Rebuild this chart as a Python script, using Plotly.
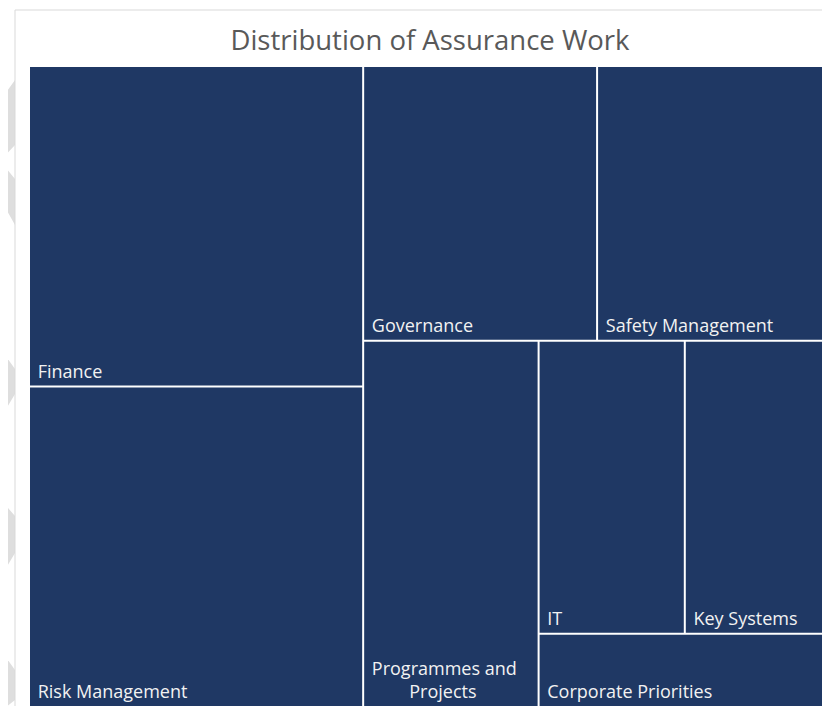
import plotly.graph_objects as go

# Areas of assurance work and their relative weight
areas = ["Finance", "Risk Management", "Governance", "Safety Management",
         "Programmes and<br>" + "\u00a0" * 9 + "Projects", "IT", "Key Systems",
         "Corporate Priorities"]
weights = [5, 5, 3, 3, 3, 2, 2, 1]

# Blocks used to reproduce the tile arrangement of the original chart
area_block = ["left", "left", "upper", "upper", "prog", "pair", "pair", "corp"]
blocks = ["left", "right", "upper", "lower", "prog", "rest", "pair", "corp"]
block_parent = ["", "", "right", "right", "lower", "lower", "rest", "rest"]

NAVY = "#1f3864"

ids = blocks + areas
labels = [""] * len(blocks) + areas
parents = block_parent + area_block
values = [0] * len(blocks) + weights
colors = ["white"] * len(blocks) + [NAVY] * len(areas)

fig = go.Figure(go.Treemap(
    ids=ids,
    labels=labels,
    parents=parents,
    values=values,
    branchvalues="remainder",
    sort=False,
    texttemplate="\u00a0%{label}",
    textposition="bottom left",
    textfont=dict(family="Open Sans", size=18, color="#f2f2f2"),
    marker=dict(colors=colors, line=dict(width=0), depthfade=False,
                pad=dict(t=0, l=0, r=0, b=0)),
    tiling=dict(packing="slice-dice", pad=2),
    pathbar=dict(visible=False),
    hoverinfo="skip",
))

# the page adds an 8px body margin: the figure is sized so the page
# fits the window, and its content is shifted back by 8px
W, H = 822, 698
ML, MT = 22, 59


def px(x, y):
    # window pixel -> paper coordinates of the treemap area
    return (x - 8 - ML) / (W - ML), (H + 8 - y) / (H - MT)


# faint chevron watermark on the left edge
chevrons = [
    [(15, 80), (0, 101), (0, 198), (15, 225), (15, 179), (0, 161), (15, 145)],
    [(0, 348), (15, 369), (15, 394), (0, 419)],
    [(0, 499), (15, 516), (15, 553), (0, 578)],
    [(0, 649), (15, 670), (15, 700), (0, 712)],
]
for pts in chevrons:
    path = "M " + " L ".join("%.5f,%.5f" % px(x, y) for x, y in pts) + " Z"
    fig.add_shape(type="path", path=path, xref="paper", yref="paper",
                  fillcolor="#dedede", line=dict(width=0), layer="below")

# light frame around the chart area
x0, y1 = px(15, 10)
fig.add_shape(type="rect", xref="paper", yref="paper",
              x0=x0, x1=1.05, y0=-0.05, y1=y1,
              fillcolor="white", line=dict(color="#d9d9d9", width=1), layer="below")

fig.update_layout(
    width=W, height=H,
    margin=dict(l=ML, r=0, t=MT, b=0),
    paper_bgcolor="white",
    title=dict(text="Distribution of Assurance Work", x=(430 - 8) / W, xanchor="center",
               y=1 - (40 - 8) / H, yanchor="middle", yref="container",
               font=dict(family="Open Sans", size=27.5, color="#595959")),
)

fig.write_html("out.html")
